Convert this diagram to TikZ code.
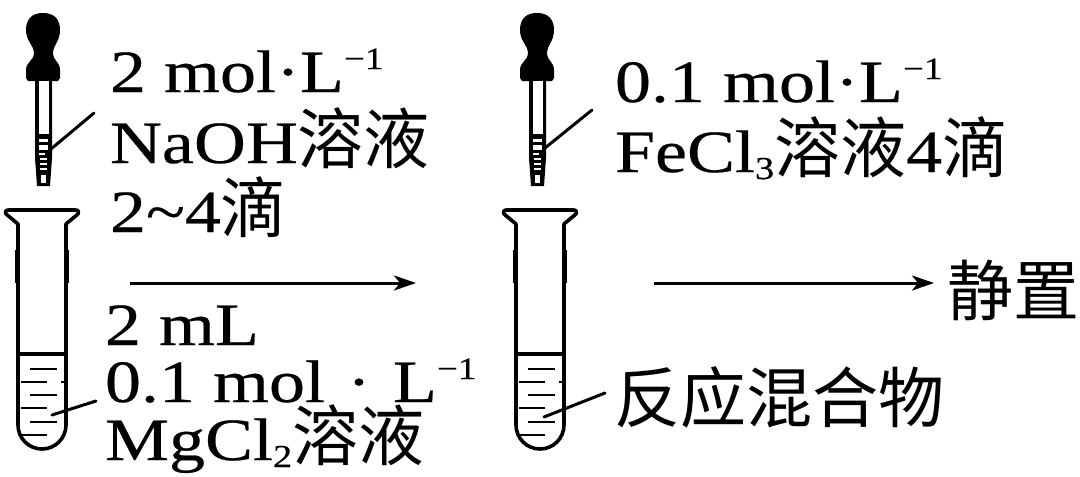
\documentclass[tikz,border=0pt]{standalone}
\usepackage{fontspec}
\setmainfont[FakeStretch=1.2,FakeBold=0.4]{Liberation Serif}
\newfontfamily\cjk{Noto Sans CJK SC}
\usetikzlibrary{arrows.meta}
\newcommand{\cj}[1]{{\fontsize{66}{66}\cjk #1}}
\newcommand{\supm}{\raisebox{23pt}{\fontsize{31}{31}\selectfont −1}}
\newcommand{\subn}[1]{\raisebox{-7pt}{\fontsize{32}{32}\selectfont #1}}
\tikzset{
  x=1pt,y=-1pt,
  lab/.style={anchor=base west,inner sep=0pt,outer sep=0pt,font=\fontsize{60}{60}\selectfont},
  wall/.style={line width=3.6pt,line join=round,line cap=round},
  liqmark/.style={line width=2.6pt},
  leader/.style={line width=3pt,line cap=round},
  flow/.style={line width=3pt,-{Stealth[length=22pt,width=15pt,inset=6pt]}},
  pics/dropper/.style={code={
    \fill[black] (26,30) .. controls (26,18) and (33,13) .. (43,13)
      .. controls (53,13) and (60,18) .. (60,30)
      .. controls (60,42) and (53,44) .. (53,54)
      .. controls (53,60) and (60,62) .. (60,70)
      -- (60,78) -- (58,81) -- (28,81) -- (26,78) -- (26,70)
      .. controls (26,62) and (34,60) .. (34,54)
      .. controls (34,44) and (26,42) .. (26,30) -- cycle;
    \fill[black] (35,81) -- (52,81) -- (52,158) -- (50,186) -- (37,186) -- (35,158) -- cycle;
    \fill[white] (38.5,81) rectangle (48.5,134);
    \fill[white] (39,139) rectangle (48,142);
    \fill[white] (39,145) rectangle (48,150);
    \fill[white] (39,153) rectangle (45,155);
    \fill[white] (40,158) rectangle (47,160);
    \fill[white] (40,163) rectangle (47,165);
    \fill[white] (40,168) rectangle (47,170);
    \fill[white] (41,175) rectangle (46,183);
  }},
  pics/tube/.style={code={
    \draw[wall,fill=white] (18,224) -- (6,214) .. controls (5,211) and (6,210) .. (9,210)
      -- (75,210) .. controls (78,210) and (79,211) .. (78,214) -- (66,224)
      -- (66,425) arc[start angle=0,end angle=180,radius=24] -- cycle;
    \draw[line width=4.6pt] (17.5,250) -- (17.5,283);
    \draw[line width=4.6pt] (66.5,250) -- (66.5,283);
    \draw[line width=3.2pt] (17,354) -- (67,354);
    \foreach \yy/\xa/\xb in {369/30/57,382/21/47,382/61/66,395/30/57,408/21/47,422/30/57,435/21/47}
      \draw[liqmark] (\xa,\yy) -- (\xb,\yy);
  }}
}
\begin{document}
\begin{tikzpicture}
\useasboundingbox (0,0) rectangle (1080,477);
\fill[white] (0,0) rectangle (1080,477);
% apparatus 1
\pic at (0,0) {dropper};
\pic at (0,0) {tube};
% apparatus 2
\pic at (494,0) {dropper};
\pic at (498,0) {tube};
% labels
\node[lab] (a1) at (110,92) {2 mol·L\supm};
\node[lab] (a2) at (110,163) {NaOH\cj{溶液}};
\node[lab] (a3) at (110,232) {2\textasciitilde4\cj{滴}};
\node[lab] (b1) at (105,345) {2 mL};
\node[lab] (b2) at (105,402) {0.1 mol\hspace{4pt} · \hspace{4pt}L\supm};
\node[lab] (b3) at (105,460) {MgCl\subn{2}\cj{溶液}};
\node[lab] (c1) at (615,102) {0.1 mol·L\supm};
\node[lab] (c2) at (615,172) {FeCl\subn{3}\cj{溶液}4\cj{滴}};
\node[lab] (d1) at (947,315) {\cj{静置}};
\node[lab] (e1) at (614,422) {\cj{反应混合物}};
% leaders
\coordinate (l1a) at (51,149); \coordinate (l1b) at (94,113);
\coordinate (l2a) at (545,148); \coordinate (l2b) at (592,110);
\coordinate (l3a) at (52,415); \coordinate (l3b) at (96,401);
\coordinate (l4a) at (544,417); \coordinate (l4b) at (605,393);
\draw[leader] (l1a) -- (l1b);
\draw[leader] (l2a) -- (l2b);
\draw[leader] (l3a) -- (l3b);
\draw[leader] (l4a) -- (l4b);
% arrows
\coordinate (f1a) at (130,283); \coordinate (f1b) at (416,283);
\coordinate (f2a) at (654,283); \coordinate (f2b) at (934,283);
\draw[flow] (f1a) -- (f1b);
\draw[flow] (f2a) -- (f2b);
\end{tikzpicture}
\end{document}
